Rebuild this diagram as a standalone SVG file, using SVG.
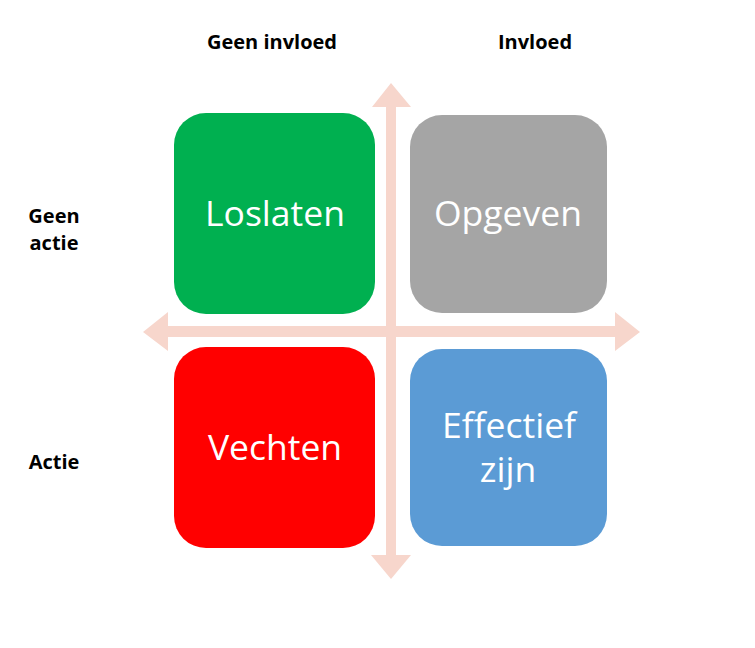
<svg xmlns="http://www.w3.org/2000/svg" width="755" height="648" viewBox="0 0 755 648">
<style>
.box text{font-family:"Open Sans","Liberation Sans",sans-serif;font-size:35.5px;fill:#fff;text-anchor:middle}
.lbl{font-family:"Open Sans","Liberation Sans",sans-serif;font-size:20px;font-weight:bold;fill:#000;text-anchor:middle}
.ax{fill:#F7D6CC}
</style>
<rect width="755" height="648" fill="#fff"/>
<g id="connectors">
<polygon class="ax" points="143,332 168,312 168,326 615,326 615,312 640,332 615,351 615,337 168,337 168,351"/>
<polygon class="ax" points="391,83 411,107 396,107 396,555 411,555 391,579 371,555 386,555 386,107 372,107"/>
</g>
<g id="loslaten" class="box"><rect x="174" y="113" width="201" height="201" rx="32" fill="#00B050"/><text x="275" y="226">Loslaten</text></g>
<g id="opgeven" class="box"><rect x="410" y="115" width="197" height="198" rx="32" fill="#A5A5A5"/><text x="508" y="226">Opgeven</text></g>
<g id="vechten" class="box"><rect x="174" y="347" width="201" height="201" rx="32" fill="#FF0000"/><text x="275" y="460">Vechten</text></g>
<g id="effectief" class="box"><rect x="410" y="349" width="197" height="197" rx="32" fill="#5B9BD5"/><text x="509" y="438">Effectief</text><text x="508" y="482">zijn</text></g>
<g id="labels">
<text class="lbl" x="272" y="49">Geen invloed</text>
<text class="lbl" x="535" y="49">Invloed</text>
<text class="lbl" x="54" y="223">Geen</text>
<text class="lbl" x="54" y="250">actie</text>
<text class="lbl" x="54" y="469">Actie</text>
</g>
</svg>
